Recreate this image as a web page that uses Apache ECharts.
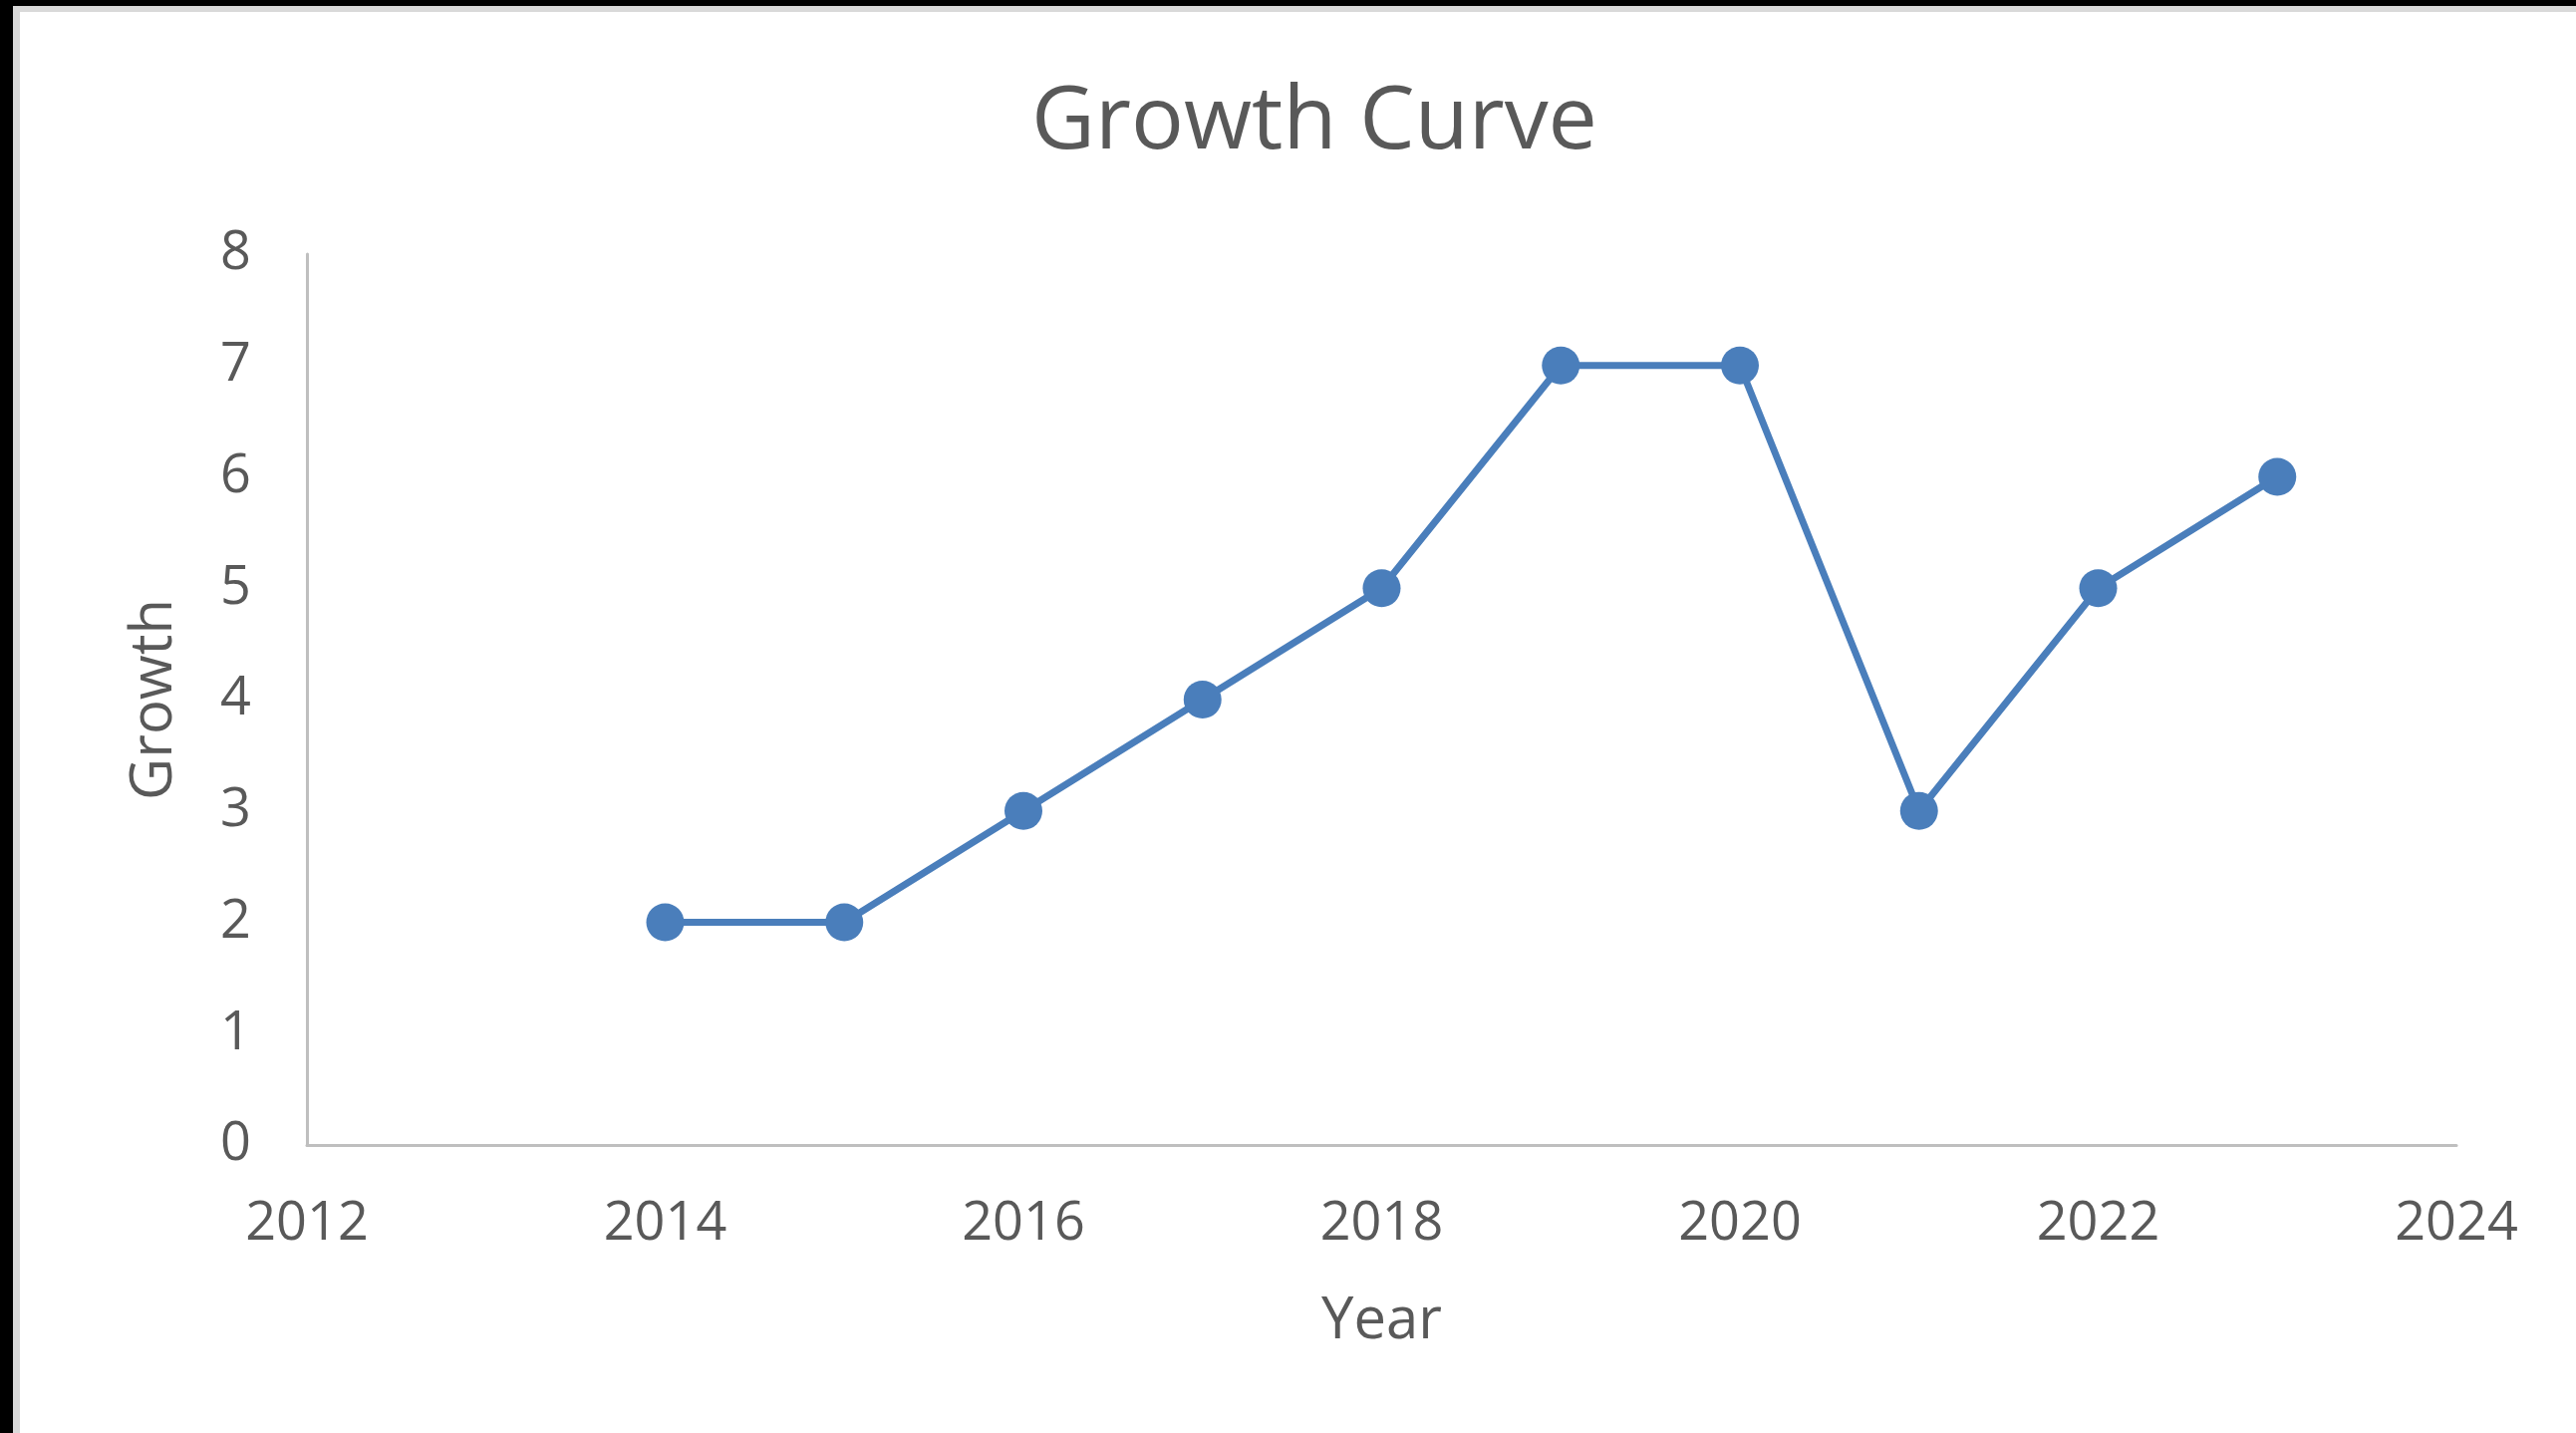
<!DOCTYPE html>
<html>
<head>
<meta charset="utf-8">
<script src="https://cdn.jsdelivr.net/npm/echarts@6/dist/echarts.min.js"></script>
<style>
html,body{margin:0;padding:0;background:#fff;overflow:hidden;}
#chart{position:absolute;left:0;top:0;width:2585px;height:1438px;}
.bar{position:absolute;}
</style>
</head>
<body>
<div id="chart"></div>
<div class="bar" style="left:0;top:0;width:13px;height:1438px;background:#000;"></div>
<div class="bar" style="left:0;top:0;width:2585px;height:6px;background:#000;"></div>
<div class="bar" style="left:13px;top:6px;width:7px;height:1432px;background:#d9d9d9;"></div>
<div class="bar" style="left:13px;top:6px;width:2572px;height:6px;background:#d9d9d9;"></div>
<script>
const titleText = 'Growth Curve';
const xAxisName = 'Year';
const yAxisName = 'Growth';
const years = [2014, 2015, 2016, 2017, 2018, 2019, 2020, 2021, 2022, 2023];
const growth = [2, 2, 3, 4, 5, 7, 7, 3, 5, 6];

const font = 'Open Sans';
const textColor = '#595959';
const chart = echarts.init(document.getElementById('chart'));
chart.setOption({
  backgroundColor: '#ffffff',
  animation: false,
  title: {
    text: titleText,
    left: 1030,
    top: 75,
    textStyle: { fontFamily: font, fontSize: 88, fontWeight: 'normal', color: textColor }
  },
  grid: { left: 308, right: 120, top: 255, bottom: 289, containLabel: false },
  xAxis: {
    type: 'value',
    min: 2012, max: 2024, interval: 2,
    name: xAxisName,
    nameLocation: 'middle',
    nameGap: 148,
    nameTextStyle: { fontFamily: font, fontSize: 58, color: textColor },
    axisLine: { show: true, lineStyle: { color: '#bfbfbf', width: 3 } },
    axisTick: { show: false },
    splitLine: { show: false },
    axisLabel: { margin: 53, fontFamily: font, fontSize: 54, color: textColor, formatter: v => String(v) }
  },
  yAxis: {
    type: 'value',
    min: 0, max: 8, interval: 1,
    name: yAxisName,
    nameLocation: 'middle',
    nameGap: 124,
    nameRotate: 90,
    nameTextStyle: { fontFamily: font, fontSize: 58, color: textColor },
    axisLine: { show: true, lineStyle: { color: '#bfbfbf', width: 3 } },
    axisTick: { show: false },
    splitLine: { show: false },
    axisLabel: { margin: 56, fontFamily: font, fontSize: 54, color: textColor, padding: [12, 0, 0, 0] }
  },
  series: [{
    type: 'line',
    data: years.map((y, i) => [y, growth[i]]),
    symbol: 'circle',
    symbolSize: 38,
    lineStyle: { color: '#4a7ebb', width: 7 },
    itemStyle: { color: '#4a7ebb' }
  }]
});
</script>
</body>
</html>
